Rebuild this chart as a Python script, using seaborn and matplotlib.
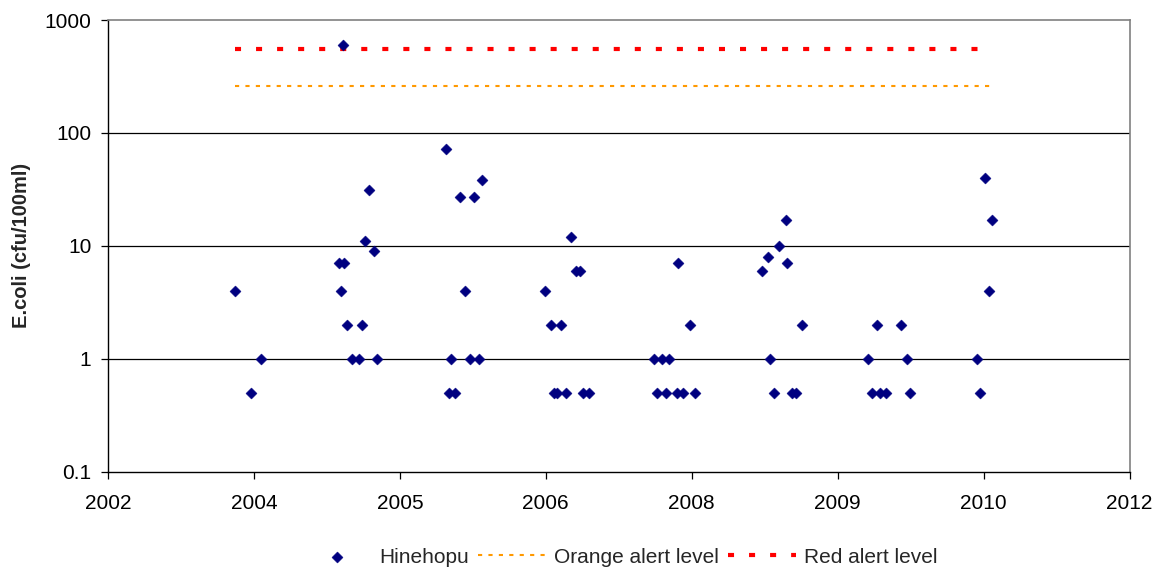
import numpy as np
import pandas as pd
import matplotlib
matplotlib.use("Agg")
import matplotlib.pyplot as plt
import seaborn as sns
from matplotlib.ticker import FixedLocator, FixedFormatter, NullLocator

# ---- data (decimal years, E.coli cfu/100ml) ----
sample_dates = [
    2003.891, 2004.038, 2004.139,
    2004.867, 2004.889, 2004.904, 2004.911, 2004.939, 2004.986, 2005.054,
    2005.082, 2005.114, 2005.148, 2005.199, 2005.227,
    2005.874, 2005.899, 2005.921, 2005.955, 2005.999, 2006.049, 2006.096,
    2006.131, 2006.180, 2006.212,
    2006.803, 2006.856, 2006.884, 2006.916, 2006.954, 2007.000, 2007.047,
    2007.094, 2007.132, 2007.156, 2007.213,
    2007.822, 2007.848, 2007.898, 2007.939, 2007.963, 2008.042, 2008.048,
    2008.095, 2008.160, 2008.207,
    2008.836, 2008.887, 2008.915, 2008.949, 2008.995, 2009.061, 2009.074,
    2009.119, 2009.159, 2009.206,
    2009.834, 2009.868, 2009.915, 2009.947, 2009.994, 2010.140, 2010.191,
    2010.222,
    2010.850, 2010.881, 2010.928, 2010.963, 2010.994,
]
ecoli = [
    4, 0.5, 1,
    7, 4, 600, 7, 2, 1, 1,
    2, 11, 31, 9, 1,
    72, 0.5, 1, 0.5, 27, 4, 1,
    27, 1, 38,
    4, 2, 0.5, 0.5, 2, 0.5, 12,
    6, 6, 0.5, 0.5,
    1, 0.5, 1, 0.5, 1, 0.5, 7,
    0.5, 2, 0.5,
    6, 8, 1, 0.5, 10, 17, 7,
    0.5, 0.5, 2,
    1, 0.5, 2, 0.5, 0.5, 2, 1,
    0.5,
    1, 0.5, 40, 4, 17,
]
orange_alert = 260
red_alert = 550
site_name = "Hinehopu"
x_tick_labels = ["2002", "2004", "2005", "2006", "2008", "2009", "2010", "2012"]
y_tick_values = [0.1, 1, 10, 100, 1000]
y_tick_labels = ["0.1", "1", "10", "100", "1000"]

# ---- axis layout (Excel-like date axis) ----
x_start = 2002.70
x_step = 1.369

sns.set_style("white")
plt.rcParams["font.family"] = ["Liberation Sans", "DejaVu Sans"]

fig = plt.figure(figsize=(11.68, 5.72), dpi=100)
W, H = 1168, 572
ax = fig.add_axes([108 / W, 1 - 471.5 / H, (1129.5 - 108) / W, (471.5 - 20) / H])

df = pd.DataFrame({"date": sample_dates, "ecoli": ecoli})
alert_x = [min(sample_dates), max(sample_dates)]
df_orange = pd.DataFrame({"date": alert_x, "level": [orange_alert] * 2})
df_red = pd.DataFrame({"date": alert_x, "level": [red_alert] * 2})

sns.scatterplot(data=df, x="date", y="ecoli", ax=ax, marker="D", s=32,
                color="#000080", edgecolor="#000080", linewidth=0.3,
                label=site_name, zorder=3)
sns.lineplot(data=df_orange, x="date", y="level", ax=ax, color="#FF9900",
             linewidth=1.5, linestyle=(0, (2.0, 3.0)), errorbar=None,
             label="Orange alert level", zorder=2)
sns.lineplot(data=df_red, x="date", y="level", ax=ax, color="#FF0000",
             linewidth=3.0, linestyle=(0, (1.45, 3.6)), errorbar=None,
             label="Red alert level", zorder=2)

ax.set_yscale("log")
ax.set_ylim(0.1, 1000)
ax.set_xlim(x_start, x_start + 7 * x_step)

ax.yaxis.set_major_locator(FixedLocator(y_tick_values))
ax.yaxis.set_major_formatter(FixedFormatter(y_tick_labels))
ax.yaxis.set_minor_locator(NullLocator())
xt = x_start + x_step * np.arange(len(x_tick_labels))
ax.xaxis.set_major_locator(FixedLocator(xt))
ax.xaxis.set_major_formatter(FixedFormatter(x_tick_labels))
ax.xaxis.set_minor_locator(NullLocator())

for v in y_tick_values[1:-1]:
    ax.axhline(v, color="black", linewidth=0.9, zorder=1)

ax.tick_params(axis="both", which="major", direction="out", length=5,
               width=0.9, color="black", labelsize=15, labelcolor="black",
               left=True, bottom=True)
ax.tick_params(axis="y", pad=7)
ax.tick_params(axis="x", pad=11)

for side in ["left", "bottom"]:
    ax.spines[side].set_color("black")
    ax.spines[side].set_linewidth(1.0)
for side in ["top", "right"]:
    ax.spines[side].set_color("#808080")
    ax.spines[side].set_linewidth(1.2)

ax.set_xlabel("")
ax.set_ylabel("E.coli (cfu/100ml)", fontsize=14.5, fontweight="bold", labelpad=10)

handles, labels = ax.get_legend_handles_labels()
if ax.get_legend() is not None:
    ax.get_legend().remove()
fig.legend(handles, labels, loc="center", bbox_to_anchor=(0.531, 0.026),
           ncol=3, frameon=False, fontsize=15, handlelength=3.27,
           handletextpad=0.38, columnspacing=0.43, scatterpoints=1)

fig.savefig("out.png", dpi=100)
